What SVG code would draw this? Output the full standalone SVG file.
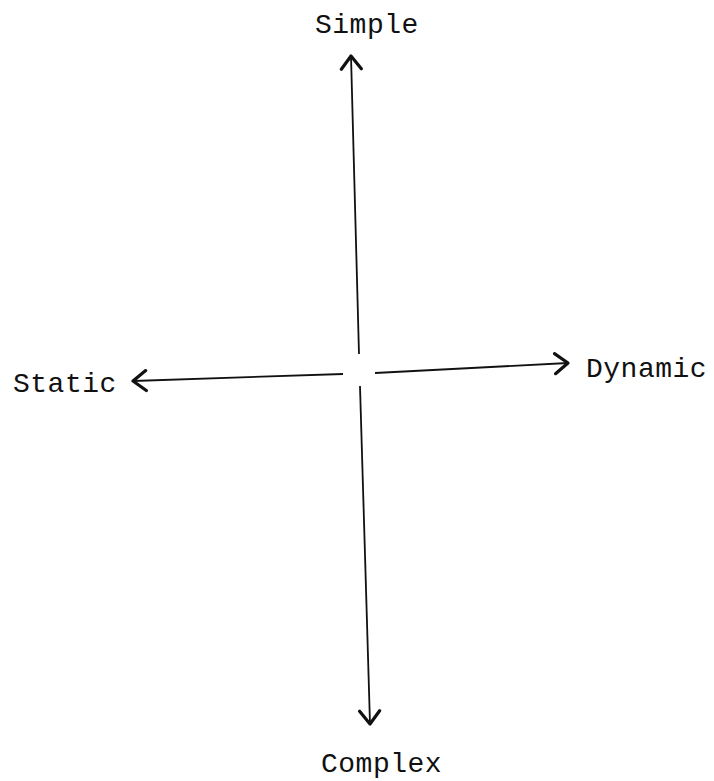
<svg xmlns="http://www.w3.org/2000/svg" width="714" height="781" viewBox="0 0 714 781">
<style>
.lbl{font-family:"Liberation Mono","DejaVu Sans Mono",monospace;font-size:28px;fill:#111;letter-spacing:0.5px}
.ax{stroke:#111;stroke-width:1.8;fill:none}
</style>
<defs>
<marker id="ah" markerUnits="userSpaceOnUse" markerWidth="20" markerHeight="26" refX="15" refY="13" orient="auto" viewBox="0 0 20 26">
<path d="M2,3 L15,13 L2,23" fill="none" stroke="#111" stroke-width="3.2" stroke-linecap="round" stroke-linejoin="round"/>
</marker>
</defs>
<rect width="714" height="781" fill="#fff"/>
<g id="connectors">
<line class="ax" x1="359" y1="354" x2="351" y2="56" marker-end="url(#ah)"/>
<line class="ax" x1="360" y1="386" x2="370" y2="724" marker-end="url(#ah)"/>
<line class="ax" x1="343" y1="374" x2="133" y2="381" marker-end="url(#ah)"/>
<line class="ax" x1="375" y1="373" x2="568" y2="363" marker-end="url(#ah)"/>
</g>
<g id="simple"><text class="lbl" x="315" y="33">Simple</text></g>
<g id="static"><text class="lbl" x="13" y="392">Static</text></g>
<g id="dynamic"><text class="lbl" x="586" y="377">Dynamic</text></g>
<g id="complex"><text class="lbl" x="321" y="772">Complex</text></g>
</svg>
